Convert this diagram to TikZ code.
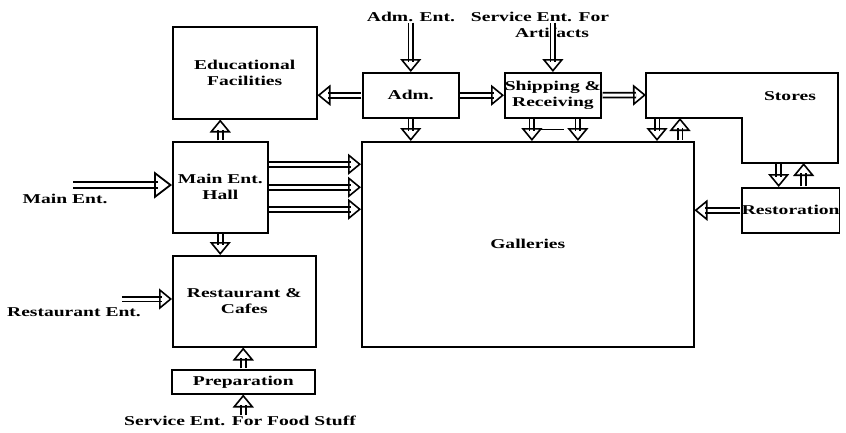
\documentclass[tikz,border=0pt]{standalone}
\usepackage{fontspec}
\setmainfont{Liberation Serif}[FakeStretch=1.45]
\usetikzlibrary{arrows.meta,positioning,calc,decorations.markings}

\begin{document}
\begin{tikzpicture}[x=1pt,y=-1pt,
    box/.style={draw,line width=1.5pt,align=center,anchor=north west,inner sep=0pt,
      font=\bfseries\fontsize{13.5}{16}\selectfont},
    lbl/.style={align=center,inner sep=0pt,font=\bfseries\fontsize{13.5}{16}\selectfont},
    arr/.style={draw,line width=6.5pt,shorten >=10pt,shorten <=0.75pt,
      postaction={draw=white,line width=3pt},
      postaction={decorate,draw=none,decoration={markings,
        mark=at position 1 with {\arrow[line width=1.6pt,black]{Triangle[open,length=13pt,width=21pt]}}}}},
    bigarr/.style={draw,line width=8pt,shorten >=14pt,
      postaction={draw=white,line width=4pt},
      postaction={decorate,draw=none,decoration={markings,
        mark=at position 1 with {\arrow[line width=1.8pt,black]{Triangle[open,length=18pt,width=27pt]}}}}}
  ]
    \fill[white] (0,0) rectangle (846,432);
    \useasboundingbox (0,0) rectangle (846,432);

    % boxes
    \node[box,minimum width=144pt,minimum height=92pt] (edu) at (172,26) {Educational\\Facilities};
    \node[box,minimum width=95pt,minimum height=91pt] (hall) at (172,141) {Main Ent.\\Hall};
    \node[box,minimum width=143pt,minimum height=91pt] (rest) at (172,255) {Restaurant \&\\Cafes};
    \node[box,minimum width=143pt,minimum height=24pt] (prep) at (171,369) {Preparation};
    \node[box,minimum width=96pt,minimum height=45pt] (adm) at (362,72) {Adm.};
    \node[box,minimum width=94pt,minimum height=45pt] (ship) at (504,72) {Shipping \&\\Receiving};
    \node[box,minimum width=332pt,minimum height=205pt] (gal) at (361,141) {Galleries};
    \node[box,minimum width=97pt,minimum height=45pt] (resto) at (741,187) {Restoration};

    % stores (L-shaped)
    \coordinate (stw) at (646,95);
    \coordinate (stin) at (646,118);
    \coordinate (stbot) at (742,163);
    \draw[line width=1.5pt] (646,73) -- (838,73) -- (838,163) -- (stbot) -- (742,118) -- (stin) -- cycle;
    \node[lbl] (stores) at (790,96) {Stores};

    % entrances
    \node[lbl] (admEnt) at (411,17) {Adm. Ent.};
    \node[lbl] (svcEnt) at (540,17) {Service Ent. For};
    \node[lbl] (artLbl) at (552,33) {Artifacts};
    \node[lbl] (mainEnt) at (65,199) {Main Ent.};
    \node[lbl] (restEnt) at (74,312) {Restaurant Ent.};
    \node[lbl] (foodEnt) at (240,421) {Service Ent. For Food Stuff};
    \coordinate (mainStart) at (73,185);
    \coordinate (restStart) at (121,299);

    \draw[arr] (admEnt.south -| adm.north) -- (adm.north);
    \draw[arr] (svcEnt.south -| ship.north) -- (ship.north);
    \draw[bigarr] (mainStart) -- (mainStart -| hall.west);
    \draw[arr] (restStart) -- (restStart -| rest.west);
    \draw[arr] (foodEnt.north -| prep.south) -- (prep.south);

    % links
    \draw[arr] (hall.north) -- (hall.north |- edu.south);
    \draw[arr] (hall.south) -- (hall.south |- rest.north);
    \draw[arr] (prep.north) -- (prep.north |- rest.south);
    \foreach \dy in {23,0,-22}
      \draw[arr] ([yshift=\dy pt]hall.east) -- ([yshift=\dy pt]hall.east -| gal.west);
    \draw[arr] (adm.west) -- (adm.west -| edu.east);
    \draw[arr] (adm.east) -- (ship.west);
    \draw[arr] (adm.south) -- (adm.south |- gal.north);
    \draw[arr] ([xshift=-21pt]ship.south) -- ([xshift=-21pt]ship.south |- gal.north);
    \draw[arr] ([xshift=25pt]ship.south) -- ([xshift=25pt]ship.south |- gal.north);
    \draw[line width=1pt] ([xshift=-13pt,yshift=-11pt]ship.south) -- ++(24,0);
    \draw[arr] (ship.east) -- (stw);
    \draw[arr] ([xshift=11pt]stin) -- ([xshift=11pt]stin |- gal.north);
    \draw[arr] ([xshift=34pt]stin |- gal.north) -- ([xshift=34pt]stin);
    \draw[arr] ([xshift=-12pt]resto.north |- stbot) -- ([xshift=-12pt]resto.north);
    \draw[arr] ([xshift=13pt]resto.north) -- ([xshift=13pt]resto.north |- stbot);
    \draw[arr] (resto.west) -- (resto.west -| gal.east);
  \end{tikzpicture}
\end{document}
